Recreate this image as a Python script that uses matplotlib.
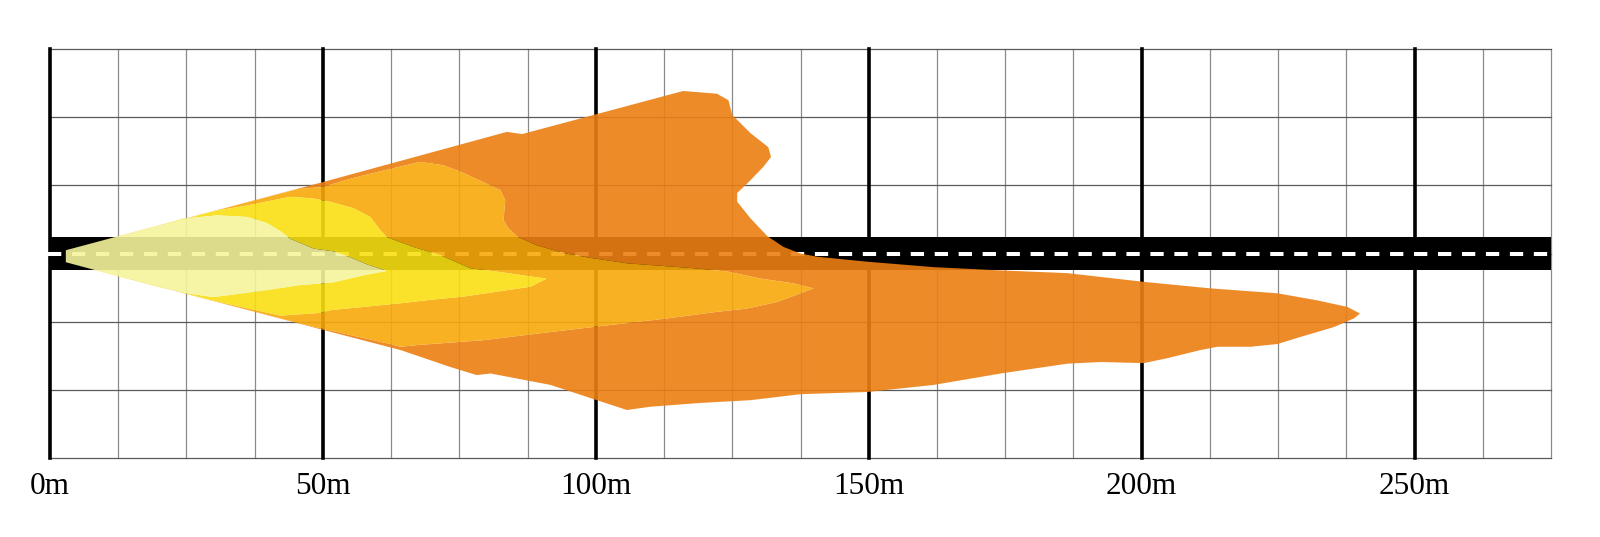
import numpy as np
import matplotlib
matplotlib.use("Agg")
import matplotlib.pyplot as plt
from matplotlib.path import Path
from matplotlib.patches import PathPatch

# beam pattern outlines in metres (x = distance ahead, y = lateral offset)
orange_x = [2.9, 50.0, 83.7, 86.5, 116.0, 122.2, 124.3, 125.0, 128.3, 131.6, 132.1, 130.7,
            128.3, 125.9, 125.9, 128.3, 131.4, 134.4, 137.5, 140.6, 149.7, 161.9, 174.2,
            186.4, 192.5, 200.4, 212.7, 224.9, 232.2, 237.7, 240.0, 238.9, 235.2, 229.1,
            224.9, 220.0, 213.9, 210.8, 204.7, 200.4, 192.5, 186.4, 174.2, 161.9, 149.7,
            137.5, 128.3, 119.2, 110.0, 105.7, 100.2, 91.7, 80.7, 78.2, 73.3, 64.2, 50.0, 2.9]
orange_y = [0.6, 13.1, 22.3, 21.9, 29.8, 29.3, 28.1, 25.4, 22.1, 19.5, 17.7, 15.9,
            13.4, 11.1, 9.5, 6.5, 3.2, 1.2, 0.0, -0.6, -1.5, -2.5, -3.1,
            -3.6, -4.3, -5.2, -6.4, -7.3, -8.6, -9.8, -11.0, -11.9, -13.5, -15.3,
            -16.6, -17.1, -17.1, -17.7, -19.2, -20.1, -19.9, -20.2, -22.0, -24.1, -25.4,
            -25.8, -26.9, -27.4, -28.1, -28.7, -26.9, -24.1, -22.0, -22.3, -20.8, -17.7, -14.0, -1.6]

amber_x = [2.9, 45.3, 50.0, 55.0, 61.0, 67.8, 72.0, 75.2, 79.4, 82.5, 83.4, 83.1, 84.0,
           85.6, 89.2, 94.0, 99.0, 105.7, 117.9, 124.1, 130.2, 136.3, 139.9, 137.5, 133.2,
           127.7, 122.2, 113.1, 100.2, 91.7, 79.4, 67.2, 64.2, 62.3, 46.4, 2.9]
amber_y = [0.6, 11.8, 12.2, 13.7, 15.2, 16.8, 16.2, 15.0, 13.1, 11.6, 9.8, 6.1, 4.6,
           3.1, 1.5, 0.1, -0.8, -1.8, -2.7, -3.3, -4.6, -5.5, -6.4, -7.3, -8.9,
           -10.1, -10.7, -11.9, -13.4, -14.4, -15.9, -16.8, -17.1, -16.6, -13.0, -1.6]

yellow_x = [2.9, 30.6, 36.1, 44.0, 48.2, 51.3, 55.6, 58.7, 60.5, 61.7, 66.6, 71.5, 77.0,
            82.5, 88.0, 91.0, 88.0, 81.9, 75.8, 69.7, 63.6, 57.4, 51.3, 49.5, 42.2, 29.3, 2.9]
yellow_y = [0.6, 7.9, 8.8, 10.4, 10.1, 9.5, 8.3, 6.7, 4.3, 3.0, 1.2, -0.3, -2.7,
            -3.4, -4.2, -4.6, -6.1, -7.0, -7.9, -8.5, -9.2, -9.8, -10.4, -10.9, -11.4, -8.5, -1.6]

pale_x = [2.9, 20.2, 24.4, 30.6, 36.1, 39.7, 42.2, 44.0, 48.3, 51.9, 55.0, 58.1, 61.7,
          57.4, 51.9, 45.8, 39.7, 33.0, 29.9, 25.1, 20.2, 2.9]
pale_y = [0.6, 5.2, 6.4, 7.0, 6.7, 5.6, 4.1, 2.7, 0.9, 0.4, -0.7, -2.0, -3.2,
          -4.0, -5.3, -5.8, -6.7, -7.6, -8.0, -7.3, -6.2, -1.6]

tick_values = [0, 50, 100, 150, 200, 250]
tick_labels = ["0m", "50m", "100m", "150m", "200m", "250m"]

X_MAX = 275
Y_LIM = 37.5
GRID_STEP = 12.5
ROAD_HALF = 3.05

COLORS = ["#EC7E12", "#F8A90A", "#F9DF12", "#F5F49B"]
BEAM_ALPHA = 0.9


def closed_path(xs, ys, ccw=True):
    pts = np.column_stack([xs, ys])
    area = 0.5 * np.sum(pts[:, 0] * np.roll(pts[:, 1], -1) - np.roll(pts[:, 0], -1) * pts[:, 1])
    if (area > 0) != ccw:
        pts = pts[::-1]
    verts = np.vstack([pts, pts[:1]])
    codes = [Path.MOVETO] + [Path.LINETO] * (len(pts) - 1) + [Path.CLOSEPOLY]
    return verts, codes


def ring_patch(outer, inner, color):
    v1, c1 = closed_path(*outer, ccw=True)
    verts, codes = list(v1), list(c1)
    if inner is not None:
        v2, c2 = closed_path(*inner, ccw=False)
        verts += list(v2)
        codes += c2
    return PathPatch(Path(verts, codes), facecolor=color, edgecolor="none",
                     alpha=BEAM_ALPHA, zorder=5)


fig = plt.figure(figsize=(16, 5.37), dpi=100)
ax = fig.add_axes([50 / 1600, 1 - 458 / 537, 1501 / 1600, 409 / 537])
ax.set_xlim(0, X_MAX)
ax.set_ylim(-Y_LIM, Y_LIM)
for s in ax.spines.values():
    s.set_visible(False)

# grid
for x in np.arange(0, X_MAX + 0.1, GRID_STEP):
    if x % 50 == 0:
        ax.axvline(x, color="black", lw=2.6, zorder=2, clip_on=False)
    else:
        ax.axvline(x, color="#8a8a8a", lw=0.9, zorder=1, clip_on=False)
for y in np.arange(-Y_LIM, Y_LIM + 0.1, GRID_STEP):
    ax.axhline(y, color="#5a5a5a", lw=0.9, zorder=1, clip_on=False)

# road with dashed centre line
ax.axhspan(-ROAD_HALF, ROAD_HALF, color="black", lw=0, zorder=3)
ax.plot([-0.4, X_MAX], [0, 0], color="white", lw=2.9, zorder=4, clip_on=False,
        dashes=(3.3, 2.65), solid_capstyle="butt", dash_capstyle="butt")

# beam layers as non-overlapping rings
layers = [(orange_x, orange_y), (amber_x, amber_y), (yellow_x, yellow_y), (pale_x, pale_y)]
for i, (lx, ly) in enumerate(layers):
    inner = layers[i + 1] if i + 1 < len(layers) else None
    ax.add_patch(ring_patch((lx, ly), inner, COLORS[i]))

ax.set_yticks([])
ax.set_xticks(tick_values)
ax.set_xticklabels(tick_labels, fontfamily="Liberation Serif", fontsize=22.5)
ax.tick_params(axis="x", length=0, pad=10)

fig.savefig("out.png", dpi=100)
